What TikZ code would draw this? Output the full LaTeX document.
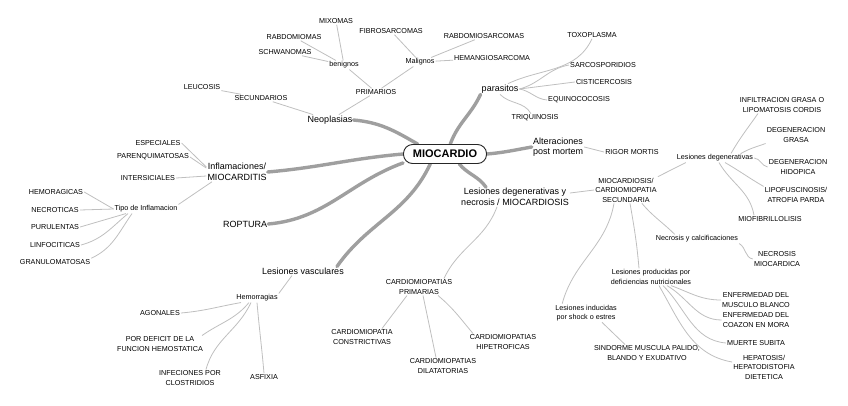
\documentclass[tikz,border=0pt]{standalone}
\usepackage{fontspec}
\setmainfont{Liberation Sans}
\pgfdeclarelayer{background}
\pgfsetlayers{background,main}

\begin{document}
\begin{tikzpicture}[
    x=1pt, y=1pt,
    core/.style={
        rectangle,
        rounded corners=9pt,
        draw=black!85,
        line width=0.9pt,
        fill=white,
        minimum width=83pt,
        minimum height=19pt,
        font=\fontsize{11}{13}\selectfont\bfseries
    },
    topic/.style={
        align=center,
        inner sep=1pt,
        font=\fontsize{9}{10.5}\selectfont
    },
    leaf/.style={
        align=center,
        inner sep=1pt,
        font=\fontsize{7.2}{9.5}\selectfont
    },
    trunk/.style={line width=3.4pt, draw=gray!75, line cap=round},
    twig/.style={line width=0.8pt, draw=gray!50}
]
\useasboundingbox (0,0) rectangle (848,-405);

% Centre
\node[core] (core) at (445,-154) {MIOCARDIO};

% Neoplasias
\node[topic] (neo) at (330,-120) {Neoplasias};
\node[leaf] (prim) at (376,-92) {PRIMARIOS};
\node[leaf] (sec) at (261,-98) {SECUNDARIOS};
\node[leaf] (leu) at (202,-87) {LEUCOSIS};
\node[leaf] (ben) at (344,-65) {benignos};
\node[leaf] (mal) at (420,-62) {Malignos};
\node[leaf] (mix) at (336,-21) {MIXOMAS};
\node[leaf] (rabm) at (294,-37) {RABDOMIOMAS};
\node[leaf] (schw) at (285,-52) {SCHWANOMAS};
\node[leaf] (fibro) at (391,-31) {FIBROSARCOMAS};
\node[leaf] (rabs) at (484,-36) {RABDOMIOSARCOMAS};
\node[leaf] (hemang) at (492,-58) {HEMANGIOSARCOMA};

% parasitos
\node[topic] (par) at (500,-89) {parasitos};
\node[leaf] (toxo) at (592,-35) {TOXOPLASMA};
\node[leaf] (sarco) at (603,-65) {SARCOSPORIDIOS};
\node[leaf] (cisti) at (604,-82) {CISTICERCOSIS};
\node[leaf] (equi) at (579,-100) {EQUINOCOCOSIS};
\node[leaf] (triq) at (535,-118) {TRIQUINOSIS};

% post mortem
\node[topic] (alt) at (558,-147) {Alteraciones\\post mortem};
\node[leaf] (rigor) at (632,-152) {RIGOR MORTIS};

% Lesiones degenerativas y necrosis
\node[topic] (ldn) at (515,-197) {Lesiones degenerativas y\\necrosis / MIOCARDIOSIS};
\node[leaf] (mcs) at (626,-190) {MIOCARDIOSIS/\\CARDIOMIOPATIA\\SECUNDARIA};
\node[leaf] (lesdeg) at (715,-158) {Lesiones degenerativas};
\node[leaf] (infil) at (782,-105) {INFILTRACION GRASA O\\LIPOMATOSIS CORDIS};
\node[leaf] (dgrasa) at (796,-135) {DEGENERACION\\GRASA};
\node[leaf] (dhid) at (798,-167) {DEGENERACION\\HIDOPICA};
\node[leaf] (lipo) at (796,-195) {LIPOFUSCINOSIS/\\ATROFIA PARDA};
\node[leaf] (miof) at (770,-219) {MIOFIBRILLOLISIS};
\node[leaf] (necal) at (697,-239) {Necrosis y calcificaciones};
\node[leaf] (necm) at (777,-259) {NECROSIS\\MIOCARDICA};
\node[leaf] (lpd) at (651,-277) {Lesiones producidas por\\deficiencias nutricionales};
\node[leaf] (enfmb) at (756,-300) {ENFERMEDAD DEL\\MUSCULO BLANCO};
\node[leaf] (enfcm) at (756,-320) {ENFERMEDAD DEL\\COAZON EN MORA};
\node[leaf] (muerte) at (756,-343) {MUERTE SUBITA};
\node[leaf] (hepat) at (764,-367) {HEPATOSIS/\\HEPATODISTOFIA\\DIETETICA};
\node[leaf] (lis) at (586,-313) {Lesiones inducidas\\por shock o estres};
\node[leaf] (sind) at (647,-353) {SINDORME MUSCULA PALIDO,\\BLANDO Y EXUDATIVO};
\node[leaf] (cpp) at (419,-287) {CARDIOMIOPATIAS\\PRIMARIAS};
\node[leaf] (ccons) at (362,-337) {CARDIOMIOPATIA\\CONSTRICTIVAS};
\node[leaf] (cdil) at (443,-366) {CARDIOMIOPATIAS\\DILATATORIAS};
\node[leaf] (chip) at (503,-342) {CARDIOMIOPATIAS\\HIPETROFICAS};

% Lesiones vasculares
\node[topic] (lvasc) at (303,-271) {Lesiones vasculares};
\node[leaf] (hemor) at (257,-298) {Hemorragias};
\node[leaf] (agon) at (160,-313) {AGONALES};
\node[leaf] (pdef) at (160,-344) {POR DEFICIT DE LA\\FUNCION HEMOSTATICA};
\node[leaf] (infec) at (190,-378) {INFECIONES POR\\CLOSTRIDIOS};
\node[leaf] (asfix) at (264,-377) {ASFIXIA};

% Roptura
\node[topic] (ropt) at (245,-224) {ROPTURA};

% Inflamaciones
\node[topic] (infl) at (237,-172) {Inflamaciones/\\MIOCARDITIS};
\node[leaf] (espec) at (158,-143) {ESPECIALES};
\node[leaf] (paren) at (153,-157) {PARENQUIMATOSAS};
\node[leaf] (inter) at (148,-178) {INTERSICIALES};
\node[leaf] (tipo) at (146,-209) {Tipo de Inflamacion};
\node[leaf] (hemo) at (56,-192) {HEMORAGICAS};
\node[leaf] (necro) at (55,-210) {NECROTICAS};
\node[leaf] (puru) at (55,-227) {PURULENTAS};
\node[leaf] (linfo) at (55,-245) {LINFOCITICAS};
\node[leaf] (granu) at (55,-262) {GRANULOMATOSAS};

\begin{pgfonlayer}{background}
% Main branches
\draw[trunk] (neo.east) to[out=-5,in=150] (core.160);
\draw[trunk] (core.62) to[out=70,in=245] (par.south west);
\draw[trunk] (core.east) to[out=5,in=190] (alt.west);
\draw[trunk] (core.-35) to[out=-50,in=125] ([xshift=26pt]ldn.north west);
\draw[trunk] (core.-146) to[out=-115,in=55] ([xshift=-8pt]lvasc.north east);
\draw[trunk] (core.192) to[out=-160,in=5] (ropt.east);
\draw[trunk] (core.west) to[out=185,in=5] (infl.east);

% Neoplasias
\draw[twig] (neo) -- (prim);
\draw[twig] (neo) -- (sec);
\draw[twig] (sec) -- (leu);
\draw[twig] (prim) -- (ben);
\draw[twig] (prim) -- (mal);
\draw[twig] (ben) -- (mix);
\draw[twig] (ben) -- (rabm);
\draw[twig] (ben) -- (schw);
\draw[twig] (mal) -- (fibro);
\draw[twig] (mal) -- (rabs);
\draw[twig] (mal) -- (hemang);

% parasitos
\draw[twig] ([xshift=8pt]par.north) to[out=25,in=-115] (toxo.south);
\draw[twig] (par.east) to[out=15,in=190] (sarco.west);
\draw[twig] (par.east) -- (cisti.west);
\draw[twig] (par.east) to[out=-10,in=175] (equi.west);
\draw[twig] (par.south) to[out=-45,in=120] ([xshift=-4pt]triq.north);

% post mortem
\draw[twig] (alt.east) -- (rigor.west);

% Lesiones degenerativas y necrosis
\draw[twig] ([yshift=4pt]ldn.east) -- (mcs.west);
\draw[twig] ([xshift=-18pt]ldn.south) to[out=-110,in=65] ([xshift=25pt]cpp.north);
\draw[twig] (mcs.north east) -- ([xshift=10pt]lesdeg.south west);
\draw[twig] (mcs.-40) to[out=-50,in=135] ([xshift=20pt]necal.north west);
\draw[twig] ([xshift=4pt]mcs.south) to[out=-80,in=95] ([xshift=-12pt]lpd.north);
\draw[twig] ([xshift=-12pt]mcs.south) to[out=-100,in=75] ([xshift=8pt]lis.north west);
\draw[twig] ([xshift=16pt]lesdeg.north) to[out=60,in=-125] ([xshift=-24pt]infil.south);
\draw[twig] ([xshift=26pt]lesdeg.north) to[out=30,in=200] (dgrasa.south west);
\draw[twig] (lesdeg.east) to[out=-5,in=170] (dhid.west);
\draw[twig] ([xshift=10pt]lesdeg.south) to[out=-30,in=150] (lipo.north west);
\draw[twig] ([xshift=4pt]lesdeg.south) to[out=-60,in=100] ([xshift=-16pt]miof.north);
\draw[twig] (necal.south east) to[out=-30,in=170] (necm.west);
\draw[twig] ([xshift=20pt]lpd.south) to[out=-20,in=180] (enfmb.west);
\draw[twig] ([xshift=16pt]lpd.south) to[out=-30,in=180] (enfcm.west);
\draw[twig] ([xshift=12pt]lpd.south) to[out=-45,in=175] (muerte.west);
\draw[twig] ([xshift=8pt]lpd.south) to[out=-60,in=170] ([yshift=5pt]hepat.west);
\draw[twig] ([xshift=16pt]lis.south) -- ([xshift=-22pt]sind.north);
\draw[twig] ([xshift=-12pt]cpp.south) -- ([xshift=20pt]ccons.north);
\draw[twig] ([xshift=4pt]cpp.south) -- ([xshift=-7pt]cdil.north);
\draw[twig] ([xshift=19pt]cpp.south) to[out=-40,in=130] ([xshift=-30pt]chip.north);

% Lesiones vasculares
\draw[twig] ([xshift=-11pt]lvasc.south) -- (hemor.north east);
\draw[twig] ([xshift=-16pt]hemor.south) to[out=-170,in=5] (agon.east);
\draw[twig] ([xshift=-8pt]hemor.south) to[out=-130,in=35] ([xshift=-2pt]pdef.north east);
\draw[twig] ([xshift=-6pt]hemor.south) to[out=-115,in=75] ([xshift=16pt]infec.north);
\draw[twig] (hemor.south) to[out=-85,in=95] (asfix.north);

% Inflamaciones
\draw[twig] ([yshift=5pt]infl.west) -- (espec.east);
\draw[twig] ([yshift=4pt]infl.west) -- (paren.east);
\draw[twig] ([yshift=-4pt]infl.west) -- (inter.east);
\draw[twig] ([xshift=-25pt]infl.south) -- (tipo.north east);
\draw[twig] (tipo.west) -- (hemo.east);
\draw[twig] (tipo.west) -- (necro.east);
\draw[twig] ([xshift=-20pt]tipo.south) -- (puru.east);
\draw[twig] ([xshift=-18pt]tipo.south) to[out=-140,in=15] (linfo.east);
\draw[twig] ([xshift=-14pt]tipo.south) to[out=-125,in=25] (granu.north east);
\end{pgfonlayer}

\end{tikzpicture}
\end{document}
